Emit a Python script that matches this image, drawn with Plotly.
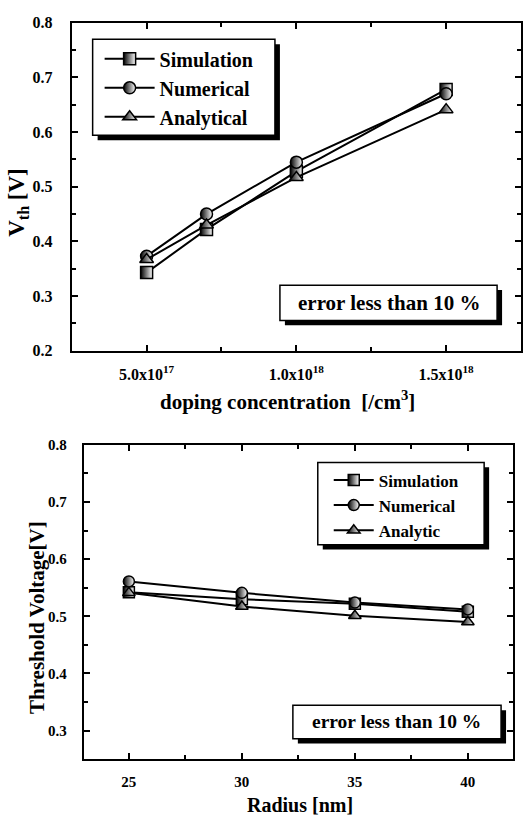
import plotly.graph_objects as go

W, H = 523, 825

# ---------- data ----------
doping = [5e17, 7e17, 1e18, 1.5e18]
top_sim = [0.343, 0.422, 0.528, 0.678]
top_num = [0.373, 0.450, 0.545, 0.670]
top_ana = [0.367, 0.430, 0.517, 0.641]
top_names = ["Simulation", "Numerical", "Analytical"]
top_xticks = [5e17, 1e18, 1.5e18]
top_xticktext = ["5.0x10<sup>17</sup>", "1.0x10<sup>18</sup>", "1.5x10<sup>18</sup>"]

radius = [25, 30, 35, 40]
bot_sim = [0.542, 0.530, 0.522, 0.508]
bot_num = [0.561, 0.541, 0.524, 0.512]
bot_ana = [0.541, 0.517, 0.501, 0.490]
bot_names = ["Simulation", "Numerical", "Analytic"]

symbols = ["square", "circle", "triangle-up"]

FONT = "Liberation Serif, Times New Roman, DejaVu Serif, serif"


def px(x):
    return x / W


def py(y):
    return 1 - y / H


fig = go.Figure()

for ys, name, sym in zip([top_sim, top_num, top_ana], top_names, symbols):
    fig.add_trace(go.Scatter(
        x=doping, y=ys, name=name, mode="lines+markers",
        xaxis="x", yaxis="y", legend="legend",
        line=dict(color="black", width=2),
        marker=dict(symbol=sym, size=12, color="black",
                    gradient=dict(type="horizontal", color="white"),
                    line=dict(color="black", width=1.5)),
    ))

for ys, name, sym in zip([bot_sim, bot_num, bot_ana], bot_names, symbols):
    fig.add_trace(go.Scatter(
        x=radius, y=ys, name=name, mode="lines+markers",
        xaxis="x2", yaxis="y2", legend="legend2",
        line=dict(color="black", width=2),
        marker=dict(symbol=sym, size=11, color="black",
                    gradient=dict(type="horizontal", color="white"),
                    line=dict(color="black", width=1.5)),
    ))

axis_common = dict(
    showline=True, linecolor="black", linewidth=2, mirror="ticks",
    ticks="inside", ticklen=6, tickwidth=2, tickcolor="black",
    showgrid=False, zeroline=False,
)

tickfont_top = dict(family=FONT, size=16, color="black", weight="bold")
tickfont_bot = dict(family=FONT, size=15, color="black", weight="bold")

fig.update_layout(
    width=W, height=H, autosize=False,
    margin=dict(l=0, r=0, t=0, b=0),
    paper_bgcolor="white", plot_bgcolor="white",
    xaxis=dict(domain=[px(72), 1], range=[2.5e17, 1.75e18], anchor="y",
               tickvals=top_xticks, ticktext=top_xticktext, tickfont=tickfont_top,
               ticklabelstandoff=8,
               minor=dict(tickvals=[7.5e17, 1.25e18], ticks="inside", ticklen=4,
                          tickwidth=2, tickcolor="black"),
               **axis_common),
    yaxis=dict(domain=[py(350), py(15)], range=[0.2, 0.8], anchor="x",
               dtick=0.1, tick0=0, tickformat=".1f", tickfont=tickfont_top,
               ticklabelstandoff=14,
               minor=dict(dtick=0.05, tick0=0, ticks="inside", ticklen=4,
                          tickwidth=2, tickcolor="black"),
               **axis_common),
    xaxis2=dict(domain=[px(84), px(515)], range=[23, 42], anchor="y2",
                dtick=5, tick0=0, tickfont=tickfont_bot, ticklabelstandoff=8,
                minor=dict(dtick=2.5, tick0=0, ticks="inside", ticklen=4,
                           tickwidth=2, tickcolor="black"),
                **axis_common),
    yaxis2=dict(domain=[py(767), py(446)], range=[0.25, 0.8], anchor="x2",
                dtick=0.1, tick0=0, tickformat=".1f", tickfont=tickfont_bot,
                ticklabelstandoff=12,
                minor=dict(dtick=0.05, tick0=0.05, ticks="inside", ticklen=4,
                           tickwidth=2, tickcolor="black"),
                **axis_common),
    legend=dict(x=px(100), y=py(32), xanchor="left", yanchor="top",
                bgcolor="rgba(0,0,0,0)", borderwidth=0,
                font=dict(family=FONT, size=20, color="black", weight="bold"),
                itemwidth=50, tracegroupgap=0),
    legend2=dict(x=px(330), y=py(464), xanchor="left", yanchor="top",
                 bgcolor="rgba(0,0,0,0)", borderwidth=0,
                 font=dict(family=FONT, size=17, color="black", weight="bold"),
                 itemwidth=40, tracegroupgap=0),
    showlegend=True,
)

# boxes with drop shadows (legend frames and note frames)
boxes = [(93, 32, 276, 130), (319, 464, 486, 548), (281, 283, 499, 319), (294, 712, 503, 746)]
shapes = []
for (x0, y0, x1, y1) in boxes:
    shapes.append(dict(type="rect", xref="paper", yref="paper", layer="above",
                       x0=px(x0 + 5), x1=px(x1 + 5), y0=py(y1 + 5), y1=py(y0 + 5),
                       fillcolor="black", line=dict(width=0)))
    shapes.append(dict(type="rect", xref="paper", yref="paper", layer="above",
                       x0=px(x0), x1=px(x1), y0=py(y1), y1=py(y0),
                       fillcolor="white", line=dict(color="black", width=1.5)))
fig.update_layout(shapes=shapes)

ann = []
ann.append(dict(text="error less than 10 %", x=px(390), y=py(301), xref="paper", yref="paper",
                showarrow=False, xanchor="center", yanchor="middle",
                font=dict(family=FONT, size=21, color="black", weight="bold")))
ann.append(dict(text="error less than 10 %", x=px(398), y=py(729), xref="paper", yref="paper",
                showarrow=False, xanchor="center", yanchor="middle",
                font=dict(family=FONT, size=19.5, color="black", weight="bold")))
ann.append(dict(text="V<sub>th</sub> [V]", x=px(18), y=py(198), xref="paper", yref="paper",
                showarrow=False, xanchor="center", yanchor="middle", textangle=-90,
                font=dict(family=FONT, size=23, color="black", weight="bold")))
ann.append(dict(text="doping concentration  [/cm<sup>3</sup>]", x=px(289), y=py(401),
                xref="paper", yref="paper", showarrow=False, xanchor="center", yanchor="middle",
                font=dict(family=FONT, size=21, color="black", weight="bold")))
ann.append(dict(text="Threshold Voltage[V]", x=px(37), y=py(622), xref="paper", yref="paper",
                showarrow=False, xanchor="center", yanchor="middle", textangle=-90,
                font=dict(family=FONT, size=21, color="black", weight="bold")))
ann.append(dict(text="Radius [nm]", x=px(301), y=py(814), xref="paper", yref="paper",
                showarrow=False, xanchor="center", yanchor="middle",
                font=dict(family=FONT, size=20, color="black", weight="bold")))
fig.update_layout(annotations=ann)

fig.write_html("out.html")
